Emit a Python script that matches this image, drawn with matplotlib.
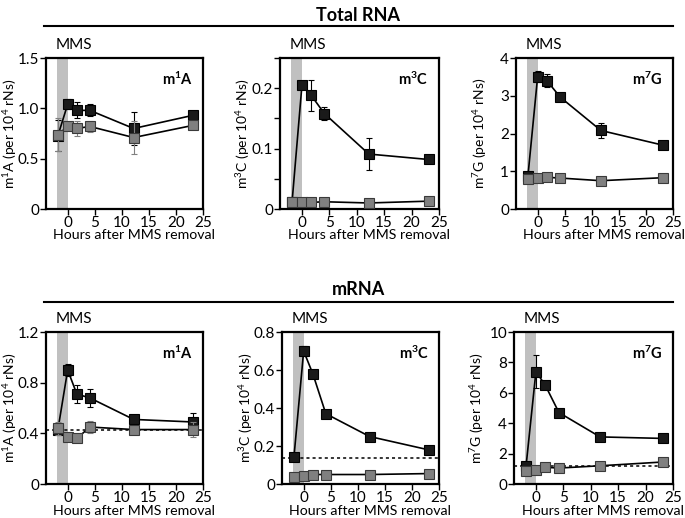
import matplotlib
matplotlib.use('Agg')
import matplotlib.pyplot as plt
from matplotlib.ticker import FixedLocator

plt.rcParams['font.family'] = ['Lato', 'DejaVu Sans']
plt.rcParams['mathtext.fontset'] = 'custom'
plt.rcParams['mathtext.rm'] = 'Lato'
plt.rcParams['mathtext.it'] = 'Lato'
plt.rcParams['mathtext.bf'] = 'Lato:bold'

# time points (hours after MMS removal)
t_ac = [-1.8, 0, 1.7, 4.1, 12.2, 23.1]
t_g = [-1.8, 0, 1.7, 4.2, 11.7, 23.2]

# Total RNA
tot_m1a_mms = [0.73, 1.04, 0.98, 0.98, 0.80, 0.93]
tot_m1a_mms_err = [0.15, 0.05, 0.08, 0.06, 0.16, 0.02]
tot_m1a_ctl = [0.74, 0.82, 0.80, 0.82, 0.71, 0.83]
tot_m1a_ctl_err = [0.16, 0.03, 0.07, 0.05, 0.16, 0.02]

tot_m3c_mms = [0.012, 0.205, 0.188, 0.158, 0.091, 0.082]
tot_m3c_mms_err = [0.002, 0.007, 0.026, 0.011, 0.026, 0.002]
tot_m3c_ctl = [0.012, 0.012, 0.011, 0.012, 0.010, 0.013]
tot_m3c_ctl_err = [0.001, 0.001, 0.001, 0.001, 0.001, 0.001]

tot_m7g_mms = [0.87, 3.51, 3.40, 2.96, 2.08, 1.69]
tot_m7g_mms_err = [0.05, 0.15, 0.18, 0.08, 0.20, 0.03]
tot_m7g_ctl = [0.79, 0.82, 0.84, 0.82, 0.75, 0.83]
tot_m7g_ctl_err = [0.05, 0.03, 0.03, 0.03, 0.05, 0.03]

# mRNA
m_m1a_mms = [0.43, 0.90, 0.71, 0.68, 0.51, 0.49]
m_m1a_mms_err = [0.03, 0.05, 0.07, 0.07, 0.02, 0.07]
m_m1a_ctl = [0.44, 0.37, 0.36, 0.45, 0.43, 0.43]
m_m1a_ctl_err = [0.05, 0.02, 0.02, 0.05, 0.02, 0.06]

m_m3c_mms = [0.14, 0.70, 0.58, 0.37, 0.25, 0.18]
m_m3c_mms_err = [0.02, 0.025, 0.015, 0.01, 0.01, 0.01]
m_m3c_ctl = [0.036, 0.041, 0.050, 0.050, 0.050, 0.055]
m_m3c_ctl_err = [0.005, 0.005, 0.005, 0.005, 0.005, 0.005]

m_m7g_mms = [1.2, 7.4, 6.5, 4.7, 3.1, 3.0]
m_m7g_mms_err = [0.1, 1.1, 0.2, 0.1, 0.1, 0.1]
m_m7g_ctl = [0.88, 0.95, 1.1, 1.05, 1.2, 1.45]
m_m7g_ctl_err = [0.1, 0.05, 0.05, 0.05, 0.05, 0.05]

m_baseline = [0.425, 0.138, 1.17]

mods = ['m$^{\\mathbf{1}}$A', 'm$^{\\mathbf{3}}$C', 'm$^{\\mathbf{7}}$G']
ylabels = ['m$^{1}$A (per 10$^{4}$ rNs)', 'm$^{3}$C (per 10$^{4}$ rNs)',
           'm$^{7}$G (per 10$^{4}$ rNs)']

fig = plt.figure(figsize=(6.85, 5.18), dpi=100)

top_pos = [[0.0672, 0.5965, 0.229, 0.2915],
           [0.4088, 0.5965, 0.232, 0.2915],
           [0.7533, 0.5965, 0.229, 0.2915]]
bot_pos = [[0.0672, 0.0656, 0.229, 0.2934],
           [0.4117, 0.0656, 0.229, 0.2934],
           [0.7504, 0.0656, 0.232, 0.2934]]

top_data = [(t_ac, tot_m1a_mms, tot_m1a_mms_err, tot_m1a_ctl, tot_m1a_ctl_err),
            (t_ac, tot_m3c_mms, tot_m3c_mms_err, tot_m3c_ctl, tot_m3c_ctl_err),
            (t_g, tot_m7g_mms, tot_m7g_mms_err, tot_m7g_ctl, tot_m7g_ctl_err)]
bot_data = [(t_ac, m_m1a_mms, m_m1a_mms_err, m_m1a_ctl, m_m1a_ctl_err),
            (t_ac, m_m3c_mms, m_m3c_mms_err, m_m3c_ctl, m_m3c_ctl_err),
            (t_g, m_m7g_mms, m_m7g_mms_err, m_m7g_ctl, m_m7g_ctl_err)]

top_y = [(1.5, [0, 0.5, 1.0, 1.5], ['0', '0.5', '1.0', '1.5'], None),
         (0.25, [0, 0.1, 0.2], ['0', '0.1', '0.2'], [0.05, 0.15, 0.25]),
         (4, [0, 1, 2, 3, 4], ['0', '1', '2', '3', '4'], None)]
bot_y = [(1.2, [0, 0.4, 0.8, 1.2], ['0', '0.4', '0.8', '1.2'], None),
         (0.8, [0, 0.2, 0.4, 0.6, 0.8], ['0', '0.2', '0.4', '0.6', '0.8'], None),
         (10, [0, 2, 4, 6, 8, 10], ['0', '2', '4', '6', '8', '10'], None)]


def panel(pos, data, yinfo, i, base=None):
    ax = fig.add_axes(pos)
    t, ym, em, yc, ec = data
    ymax, ticks, labels, minor = yinfo
    ax.axvspan(-2, 0, color='#c0c0c0', lw=0, zorder=0)
    if base is not None:
        ax.axhline(base, color='black', ls=(0, (2, 2)), lw=1.1, zorder=1)
    ax.errorbar(t, ym, yerr=em, color='black', lw=1.2, marker='s', ms=7,
                mfc='#1a1a1a', mec='#000000', mew=0.8, ecolor='black',
                elinewidth=0.8, capsize=2.5, zorder=3)
    ax.errorbar(t, yc, yerr=ec, color='black', lw=1.2, marker='s', ms=7,
                mfc='#808080', mec='#3a3a3a', mew=0.8, ecolor='#808080',
                elinewidth=0.8, capsize=2.5, zorder=4)
    ax.set_xlim(-4, 25)
    ax.set_ylim(0, ymax)
    ax.set_xticks([0, 5, 10, 15, 20, 25])
    ax.set_yticks(ticks)
    ax.set_yticklabels(labels)
    if minor:
        ax.yaxis.set_minor_locator(FixedLocator(minor))
        ax.tick_params(axis='y', which='minor', direction='out', length=4,
                       width=1)
    ax.tick_params(direction='out', length=4, width=1, labelsize=11,
                   pad=1)
    for s in ax.spines.values():
        s.set_linewidth(1.6)
    ax.set_xlabel('Hours after MMS removal', fontsize=10.2)
    ax.xaxis.set_label_coords(0.56, -0.135)
    ax.set_ylabel(ylabels[i], fontsize=10)
    ax.yaxis.set_label_coords(-0.175, 0.5)
    ax.text(0.84, 0.86, mods[i], transform=ax.transAxes, fontsize=10.5,
            fontweight='bold', ha='center', va='center')
    ax.text(-2.3, 1.04, 'MMS', transform=ax.get_xaxis_transform(),
            fontsize=11, ha='left', va='bottom')
    return ax


for i in range(3):
    panel(top_pos[i], top_data[i], top_y[i], i)
    panel(bot_pos[i], bot_data[i], bot_y[i], i, base=m_baseline[i])

fig.text(0.523, 0.971, 'Total RNA', fontsize=13, fontweight='bold',
         ha='center', va='center')
fig.text(0.523, 0.442, 'mRNA', fontsize=13, fontweight='bold',
         ha='center', va='center')
fig.add_artist(plt.Line2D([0.064, 0.982], [0.950, 0.950], color='black',
                          lw=1.5))
fig.add_artist(plt.Line2D([0.064, 0.982], [0.417, 0.417], color='black',
                          lw=1.5))

fig.savefig('out.png', dpi=100)
